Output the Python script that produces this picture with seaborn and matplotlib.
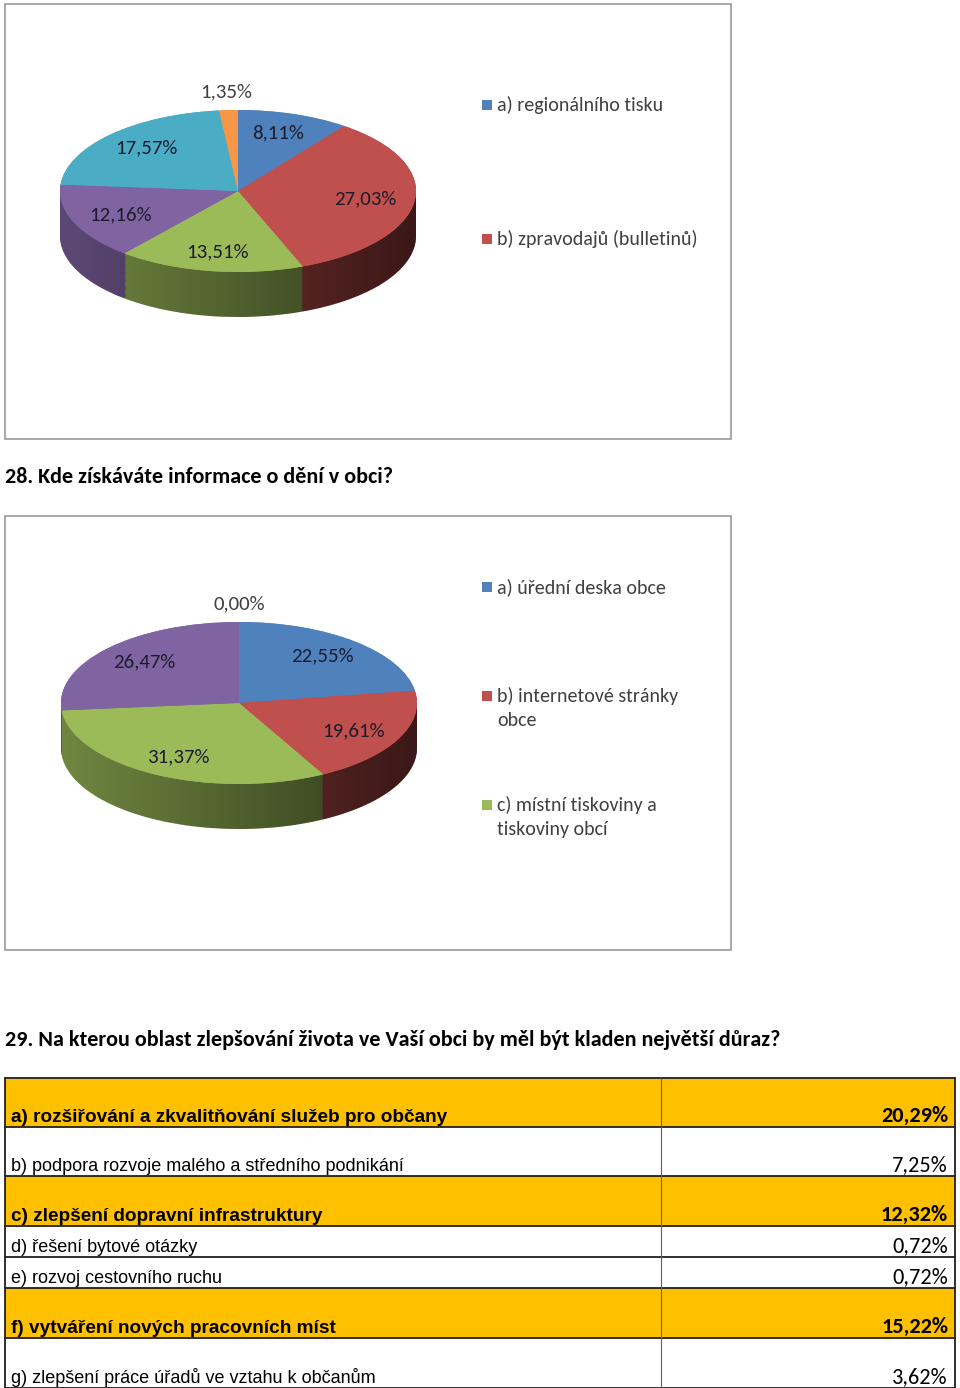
import numpy as np
import matplotlib
matplotlib.use("Agg")
import matplotlib.pyplot as plt
import seaborn as sns
from matplotlib.patches import Rectangle, PathPatch
from matplotlib.path import Path
from matplotlib import font_manager as fm

# ---------------- data ----------------
q28_title = "28. Kde získáváte informace o dění v obci?"
q29_title = "29. Na kterou oblast zlepšování života ve Vaší obci by měl být kladen největší důraz?"

pie1_values = [8.11, 27.03, 13.51, 12.16, 17.57, 1.35]
pie1_legend = ["a) regionálního tisku", "b) zpravodajů (bulletinů)"]

pie2_values = [22.55, 19.61, 31.37, 26.47, 0.00]
pie2_legend = ["a) úřední deska obce", "b) internetové stránky\nobce",
               "c) místní tiskoviny a\ntiskoviny obcí"]

table_labels = [
    "a) rozšiřování a zkvalitňování služeb pro občany",
    "b) podpora rozvoje malého a středního podnikání",
    "c) zlepšení dopravní infrastruktury",
    "d) řešení bytové otázky",
    "e) rozvoj cestovního ruchu",
    "f) vytváření nových pracovních míst",
    "g) zlepšení práce úřadů ve vztahu k občanům",
]
table_values = [20.29, 7.25, 12.32, 0.72, 0.72, 15.22, 3.62]
table_highlight = [True, False, True, False, False, True, False]

office = ["#4F81BD", "#C0504D", "#9BBB59", "#8064A2", "#4BACC6", "#F79646"]

# ---------------- setup ----------------
sns.set_theme(style="white")
names = {f.name for f in fm.fontManager.ttflist}
calibri = "Carlito" if "Carlito" in names else "Lato"
tahoma = "Liberation Sans"
plt.rcParams["font.family"] = [calibri, "DejaVu Sans"]

W, H = 960, 1388
fig = plt.figure(figsize=(W / 100, H / 100), dpi=100)
fig.patch.set_facecolor("white")

bg = fig.add_axes([0, 0, 1, 1])
bg.set_xlim(0, W)
bg.set_ylim(H, 0)
bg.axis("off")

palette = sns.color_palette(office)


def fmt(v):
    return f"{v:.2f}".replace(".", ",") + "%"


def pie3d(cx, cy, rx, ry, depth, values, colors, label_color="#1c1c2c"):
    d = depth / ry
    xl = (-1.32, 1.32)
    yl = (-1.0 - d - 0.15, 1.5)
    w = (xl[1] - xl[0]) * rx
    h = (yl[1] - yl[0]) * ry
    left = cx + xl[0] * rx
    top = cy - yl[1] * ry
    ax = fig.add_axes([left / W, 1 - (top + h) / H, w / W, h / H])
    cols = colors[: len(values)]
    # extruded side: stacked pies
    for off in np.linspace(d, 0, 40):
        wedges, _ = ax.pie(values, colors=cols, startangle=90, counterclock=False,
                           center=(0, -off), radius=1,
                           wedgeprops=dict(linewidth=0.3, edgecolor="none"))
        for wd in wedges:
            wd.set_zorder(1)
    # shading gradient over side band
    t = np.linspace(np.pi, 2 * np.pi, 200)
    lower = np.column_stack([np.cos(t), np.sin(t) - d])
    upper = np.column_stack([np.cos(t[::-1]), np.sin(t[::-1])])
    verts = np.vstack([lower, upper, lower[:1]])
    clip = PathPatch(Path(verts), transform=ax.transData, facecolor="none", edgecolor="none")
    ax.add_patch(clip)
    gx = np.linspace(0, 1, 256)
    alpha = 0.28 + 0.42 * gx
    img = np.zeros((2, 256, 4))
    img[..., 3] = alpha
    im = ax.imshow(img, extent=(-1, 1, -1 - d, 0), aspect="auto", zorder=1.5,
                   interpolation="bilinear")
    im.set_clip_path(clip)
    # top face
    wedges, _ = ax.pie(values, colors=cols, startangle=90, counterclock=False,
                       center=(0, 0), radius=1,
                       wedgeprops=dict(linewidth=0.3, edgecolor="none"))
    for wd in wedges:
        wd.set_zorder(2)
    # labels
    total = float(sum(values))
    cum = 0.0
    for v in values:
        frac = v / total
        mid = np.deg2rad(90 - 360 * (cum + frac / 2))
        cum += frac
        if frac < 0.03:
            rxl, ryl, col = 1.23, 1.23, "#404040"
        else:
            rxl, ryl, col = 0.72, 0.76, label_color
        ax.text(rxl * np.cos(mid), ryl * np.sin(mid), fmt(v), ha="center", va="center",
                fontsize=15, color=col, zorder=5)
    ax.set_xlim(*xl)
    ax.set_ylim(*yl)
    ax.set_aspect("auto")
    ax.axis("off")
    return ax


# frames
for (x0, y0, x1, y1) in [(5, 4, 731, 439), (5, 516, 731, 950)]:
    bg.add_patch(Rectangle((x0, y0), x1 - x0, y1 - y0, facecolor="white",
                           edgecolor="#9a9a9a", lw=1.2, zorder=0))

pie3d(238, 191, 178, 81, 45, pie1_values, palette)
pie3d(239, 703, 178, 81, 45, pie2_values, palette)


# legends
def legend(entries, ys):
    for lab, y, c in zip(entries, ys, palette):
        bg.add_patch(Rectangle((482, y - 5), 10, 10, facecolor=c, edgecolor="none"))
        for k, line in enumerate(lab.split("\n")):
            bg.text(497, y + 6 + 24 * k, line, ha="left", va="baseline", fontsize=14.4,
                    color="#404040")


legend(pie1_legend, [105, 239])
legend(pie2_legend, [587, 696, 805])

# question titles
bg.text(5, 477, q28_title, ha="left", va="center", fontsize=15.9, fontweight="bold",
        color="black")
bg.text(5, 1040, q29_title, ha="left", va="center", fontsize=15.9, fontweight="bold",
        color="black")

# table
row_edges = [1078, 1127, 1176, 1226, 1257, 1288, 1338, 1388]
tl, tr, tc = 5, 955, 661
for i, (lab, val, hi) in enumerate(zip(table_labels, table_values, table_highlight)):
    y0, y1 = row_edges[i], row_edges[i + 1]
    if hi:
        bg.add_patch(Rectangle((tl, y0), tr - tl, y1 - y0, facecolor="#FFC000",
                               edgecolor="none", zorder=1))
    wt = "bold" if hi else "normal"
    bg.text(11, y1 - 5, lab, ha="left", va="baseline", fontsize=13.7 if hi else 13.0,
            fontweight=wt, family=tahoma, color="black", zorder=3)
    bg.text(948, y1 - 5, fmt(val), ha="right", va="baseline", fontsize=16,
            fontweight=wt, family=calibri, color="black", zorder=3)
for y in row_edges:
    bg.plot([tl, tr], [y, y], color="#202020", lw=1.3, zorder=2)
bg.plot([tl, tl], [row_edges[0], row_edges[-1]], color="#202020", lw=1.3, zorder=2)
bg.plot([tr, tr], [row_edges[0], row_edges[-1]], color="#202020", lw=1.3, zorder=2)
bg.plot([tc, tc], [row_edges[0], row_edges[-1]], color="#606060", lw=0.8, zorder=2)

fig.savefig("out.png", dpi=100, facecolor="white")
